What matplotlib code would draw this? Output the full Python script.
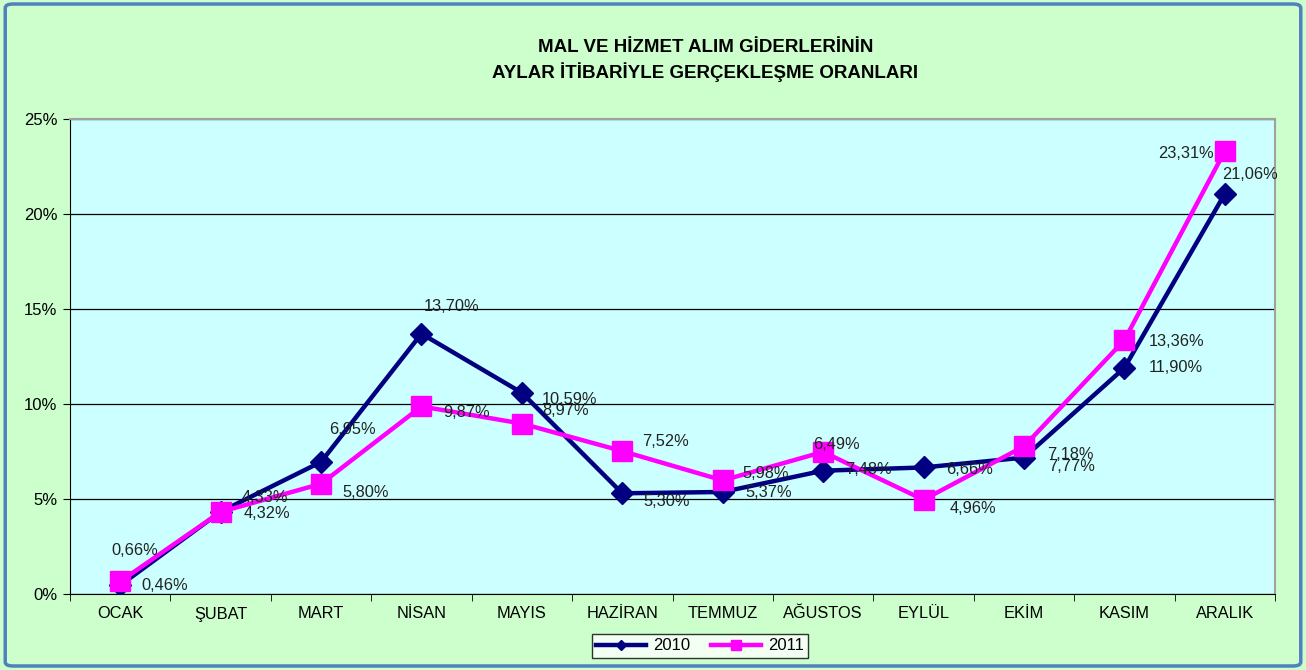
# coding: utf-8

import matplotlib.pyplot as plt
from matplotlib.patches import FancyBboxPatch
from matplotlib.ticker import FuncFormatter, FixedLocator

plt.rcParams['font.family'] = ['Liberation Sans', 'DejaVu Sans']

# ay isimleri
months = ['OCAK', 'ŞUBAT', 'MART', 'NİSAN', 'MAYIS', 'HAZİRAN',
          'TEMMUZ', 'AĞUSTOS', 'EYLÜL', 'EKİM', 'KASIM', 'ARALIK']
# gerçekleşme oranları (%)
y2010 = [0.46, 4.33, 6.95, 13.70, 10.59, 5.30, 5.37, 6.49, 6.66, 7.18, 11.90, 21.06]
y2011 = [0.66, 4.32, 5.80, 9.87, 8.97, 7.52, 5.98, 7.48, 4.96, 7.77, 13.36, 23.31]

# etiket kaydırmaları (piksel), etiketin sol kenarına göre
off2010 = [(21, 0), (21, 14), (8, 32), (2, 27), (20, -7), (21, -8),
           (23, -1), (-10, 26), (23, -2), (23, 3), (24, 0), (-3, 19)]
off2011 = [(-9, 31), (23, -2), (21, -9), (22, -6), (20, 13), (20, 10),
           (20, 7), (22, -18), (26, -9), (24, -20), (24, -1), (-11, -2)]
ha2011 = ['left'] * 11 + ['right']


def fmt_pct(v):
    return f"{v:.2f}%".replace('.', ',')


fig = plt.figure(figsize=(13.06, 6.7), dpi=100)
fig.patch.set_facecolor('#CCFFCC')
fig.patches.append(FancyBboxPatch((0.004, 0.006), 0.992, 0.988,
                                  boxstyle='round,pad=0,rounding_size=0.006',
                                  transform=fig.transFigure, fill=False,
                                  edgecolor='#4F81BD', linewidth=2.5))

ax = fig.add_axes([70 / 1306, 1 - 594 / 670, 1205 / 1306, 475 / 670])
ax.set_facecolor('#CCFFFF')

x = list(range(len(months)))
ax.plot(x, y2010, color='#000080', lw=3.2, marker='D', ms=11, label='2010', zorder=3)
ax.plot(x, y2011, color='#FF00FF', lw=3.2, marker='s', ms=15, label='2011', zorder=4)

for i in x:
    ax.annotate(fmt_pct(y2010[i]), (i, y2010[i]), xytext=off2010[i],
                textcoords='offset pixels', va='center', ha='left',
                fontsize=11.8, color='#222222', zorder=5)
    ax.annotate(fmt_pct(y2011[i]), (i, y2011[i]), xytext=off2011[i],
                textcoords='offset pixels', va='center', ha=ha2011[i],
                fontsize=11.8, color='#222222', zorder=5)

ax.set_xlim(-0.5, 11.5)
ax.set_ylim(0, 25)
ax.set_xticks(x)
ax.set_xticklabels(months, fontsize=11.8)
ax.xaxis.set_minor_locator(FixedLocator([i - 0.5 for i in range(13)]))
ax.tick_params(axis='x', which='major', length=0, pad=9)
ax.tick_params(axis='x', which='minor', length=5, direction='out', color='black')
ax.set_yticks([0, 5, 10, 15, 20, 25])
ax.yaxis.set_major_formatter(FuncFormatter(lambda v, p: f"{v:.0f}%"))
ax.tick_params(axis='y', length=5, direction='out', labelsize=12, pad=4)
ax.grid(axis='y', color='black', lw=0.9)
ax.set_axisbelow(True)

for s in ['top', 'right']:
    ax.spines[s].set_color('#A0A0A0')
    ax.spines[s].set_linewidth(1.5)
ax.spines['left'].set_color('black')
ax.spines['bottom'].set_color('black')

fig.text(0.540, 1 - 48 / 670, 'MAL VE HİZMET ALIM GİDERLERİNİN', ha='center',
         va='center', fontsize=13.5, fontweight='bold')
fig.text(0.540, 1 - 72 / 670, 'AYLAR İTİBARİYLE GERÇEKLEŞME ORANLARI', ha='center',
         va='center', fontsize=13.5, fontweight='bold')

leg = fig.legend(loc='center', bbox_to_anchor=(700 / 1306, 1 - 646 / 670), ncol=2,
                 frameon=True, fancybox=False, edgecolor='black', fontsize=12,
                 markerscale=0.45, handlelength=3.0, columnspacing=1.3,
                 borderpad=0.25, handletextpad=0.4)
leg.get_frame().set_facecolor('white')
leg.get_frame().set_linewidth(1)

plt.savefig('out.png', dpi=100, facecolor=fig.get_facecolor())
